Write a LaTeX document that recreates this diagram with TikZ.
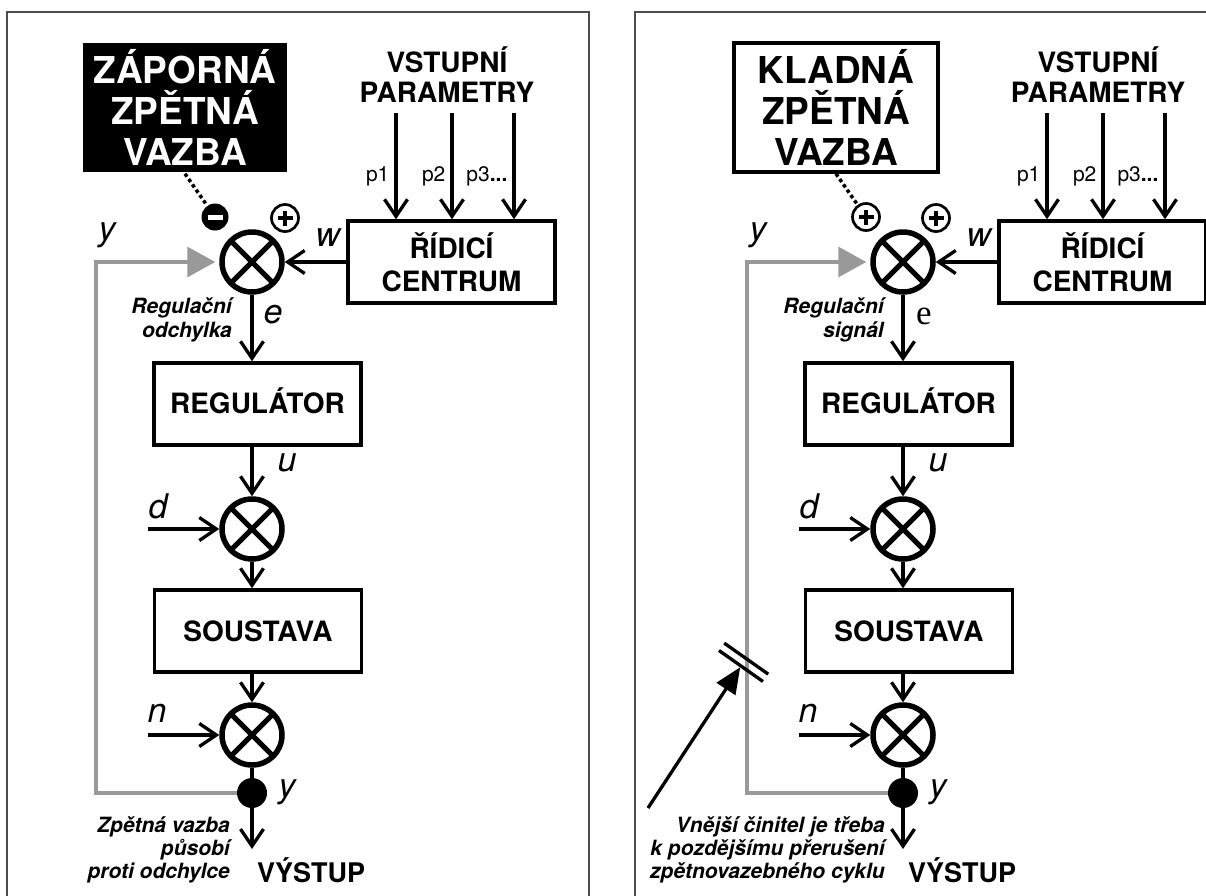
\documentclass[tikz,border=0pt]{standalone}
\usepackage{fontspec}
\setmainfont{TeX Gyre Heros}
\newfontfamily\serifletter{Liberation Serif}
\usepackage{xcolor}
\usepackage{tikz}
\usetikzlibrary{positioning,arrows.meta}
\newcommand\minusbar{\textcolor{white}{\rule[-2.5pt]{15pt}{5pt}}}
\newcommand\plusbar{\makebox[0pt]{\rule[-2pt]{15pt}{4pt}}\makebox[0pt]{\rule[-7.5pt]{4pt}{15pt}}}
\tikzset{
  % --- blocks and junctions --------------------------------------------------
  blockbox/.style={rectangle,draw,line width=3.5pt,minimum width=207pt,
                   minimum height=82pt,inner sep=0pt,align=center,
                   font=\fontsize{28}{33}\selectfont\bfseries},
  fbbox/.style={rectangle,line width=3.5pt,minimum width=204pt,
                minimum height=129pt,inner sep=0pt,align=center,
                font=\fontsize{37}{41}\selectfont\bfseries},
  sumnode/.style={circle,draw,line width=5.5pt,minimum size=60pt,inner sep=0pt,
                  path picture={\draw[line width=5pt]
                    (path picture bounding box.north east) -- (path picture bounding box.south west)
                    (path picture bounding box.north west) -- (path picture bounding box.south east);}},
  signmark/.style={circle,line width=2.7pt,minimum size=27pt,inner sep=0pt},
  tapdot/.style={circle,fill=black,minimum size=30pt,inner sep=0pt},
  % --- connectors ------------------------------------------------------------
  sigline/.style={line width=3.3pt,-{Straight Barb[length=17pt,width=23pt]}},
  backline/.style={line width=3.3pt,black!40,shorten >=4pt,
                   -{Triangle[length=28pt,width=30pt]}},
  dotline/.style={line width=3.5pt,dash pattern=on 3.5pt off 3pt},
  pushline/.style={line width=3.3pt,shorten >=1.5pt,
                   -{Triangle[length=26pt,width=22pt]}},
  cutline/.style={line width=3.3pt},
  panelframe/.style={line width=1.3pt,black!70},
  % --- labels ----------------------------------------------------------------
  varlab/.style={font=\fontsize{34}{34}\selectfont\itshape,inner sep=0pt},
  plab/.style={font=\fontsize{21}{21}\selectfont,inner sep=5pt},
  headlab/.style={font=\fontsize{28}{30}\selectfont\bfseries,align=center,inner sep=0pt},
  notelab/.style={font=\fontsize{21}{24}\selectfont\bfseries\itshape,align=right,
                  inner sep=0pt,anchor=east},
}

\begin{document}
\begin{tikzpicture}[x=1pt,y=-1pt]
  \useasboundingbox (0,0) rectangle (1206,895);
  \clip (0,0) rectangle (1206,895);
  \draw[panelframe] (7,900) -- (7,12) -- (589,12) -- (589,900);
  \draw[panelframe] (635,900) -- (635,12) -- (1210,12);

  % the same loop in both panels
  \foreach \p/\dx in {L/0,R/651}{
  \begin{scope}[xshift=\dx]
    \node[headlab] (par\p) at (447,75) {VSTUPNÍ\\PARAMETRY};
    \node[blockbox] (ctr\p) at (451.5,262) {ŘÍDICÍ\\CENTRUM};
    \node[sumnode] (sum\p) at (252,262) {};
    \node[blockbox,text height=20pt] (reg\p) at (257.5,404) {REGULÁTOR};
    \node[sumnode] (dis\p) at (252,529) {};
    \node[blockbox] (sys\p) at (258,631) {SOUSTAVA};
    \node[sumnode] (noi\p) at (252,735) {};
    \node[tapdot] (tap\p) at (252,793) {};
    \node[headlab,font=\fontsize{27}{27}\selectfont\bfseries,anchor=west] (out\p) at (257,870) {VÝSTUP};

    \coordinate (pa\p) at (396,113);
    \coordinate (pb\p) at (452,113);
    \coordinate (pc\p) at (514,113);
    \coordinate (din\p) at (148,529);
    \coordinate (nin\p) at (148,735);
    \coordinate (ret\p) at (96,262);
    \coordinate (yout\p) at (252,849);

    \node[varlab] (ytop\p) at (107,235) {y};
    \node[varlab] (w\p) at (328,238) {w};
    \node[varlab] (u\p) at (287,463) {u};
    \node[varlab] (d\p) at (158,506) {d};
    \node[varlab] (n\p) at (157,713) {n};
    \node[varlab] (ybot\p) at (287,792) {y};

    \draw[sigline] (pa\p) -- (pa\p |- ctr\p.north) node[plab,left,pos=0.6] (pla\p) {p1};
    \draw[sigline] (pb\p) -- (pb\p |- ctr\p.north) node[plab,left,pos=0.6] (plb\p) {p2};
    \draw[sigline] (pc\p) -- (pc\p |- ctr\p.north) node[plab,left,pos=0.6] (plc\p) {p3\textbf{...}};
    \draw[sigline] (ctr\p.west) -- (sum\p.east);
    \draw[sigline] (sum\p) -- (reg\p.north -| sum\p);
    \draw[sigline] (reg\p.south -| dis\p) -- (dis\p);
    \draw[sigline] (din\p) -- (dis\p);
    \draw[sigline] (dis\p) -- (sys\p.north -| dis\p);
    \draw[sigline] (sys\p.south -| noi\p) -- (noi\p);
    \draw[sigline] (nin\p) -- (noi\p);
    \draw[line width=3.3pt] (noi\p) -- (tap\p);
    \draw[sigline] (tap\p) -- (yout\p);
    \draw[backline] (tap\p) -| (ret\p) -- (sum\p);
  \end{scope}
  }

  % left: negative feedback
  \node[fbbox,fill=black,text=white] (fbL) at (185,107.5) {ZÁPORNÁ\\ZPĚTNÁ\\VAZBA};
  \node[signmark,fill=black] (sgaL) at (215,217) {\minusbar};
  \node[signmark,draw,fill=white] (sgbL) at (285,218) {\plusbar};
  \draw[dotline] (fbL.south) -- (sgaL);
  \node[varlab] (eL) at (273,315) {e};
  \node[notelab] (devL) at (232,320) {Regulační\\odchylka};
  \node[notelab,font=\fontsize{21}{23}\selectfont\bfseries\itshape] (remL) at (230,850)
    {Zpětná vazba\\působí\\proti odchylce};

  % right: positive feedback, broken from outside
  \node[fbbox,draw,fill=white] (fbR) at (836,107.5) {KLADNÁ\\ZPĚTNÁ\\VAZBA};
  \node[signmark,draw,fill=white] (sgaR) at (866,217) {\plusbar};
  \node[signmark,draw,fill=white] (sgbR) at (936,218) {\plusbar};
  \draw[dotline] (fbR.south) -- (sgaR);
  \node[varlab,font=\serifletter\fontsize{35}{35}\selectfont] (eR) at (924,316) {e};
  \node[notelab] (devR) at (884,320) {Regulační\\signál};
  \node[notelab,font=\fontsize{21}{23}\selectfont\bfseries\itshape] (remR) at (885,850)
    {Vnější činitel je třeba\\k pozdějšímu přerušení\\zpětnovazebného cyklu};

  \coordinate (cut) at (741,666);
  \coordinate (agent) at (648,808);
  \draw[cutline] ([shift={(-22,-15.5)}]cut) -- ([shift={(22,15.5)}]cut);
  \draw[cutline] ([shift={(-16.8,-22.9)}]cut) -- ([shift={(27.2,8.1)}]cut);
  \draw[pushline] (agent) -- (cut);
\end{tikzpicture}
\end{document}
